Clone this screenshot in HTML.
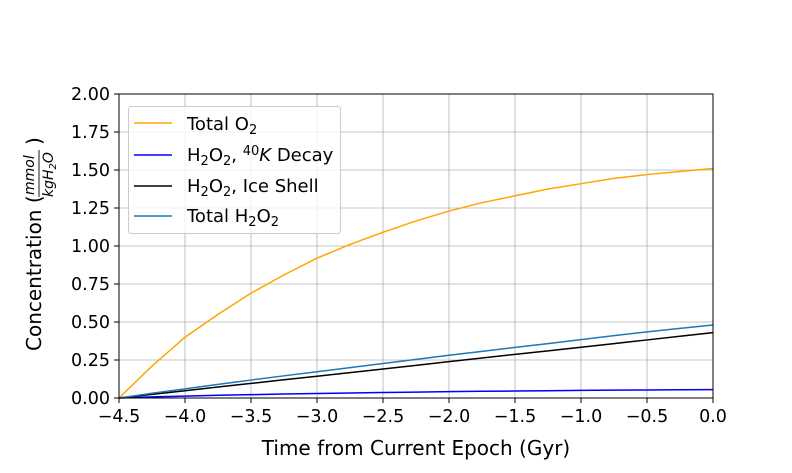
<!DOCTYPE html>
<html><head><meta charset="utf-8"><style>
body{margin:0;background:#fff;width:792px;height:468px;overflow:hidden}
svg{font-family:"DejaVu Sans","Liberation Sans",sans-serif}
</style></head><body>
<svg id="c" width="792" height="468"></svg>
<script>
const xs=[-4.5,-4.25,-4.0,-3.75,-3.5,-3.25,-3.0,-2.75,-2.5,-2.25,-2.0,-1.75,-1.5,-1.25,-1.0,-0.75,-0.5,-0.25,0.0];
const o2=[0,0.21,0.40,0.55,0.69,0.81,0.92,1.01,1.09,1.165,1.23,1.285,1.33,1.375,1.41,1.445,1.47,1.49,1.51];
const kdecay=[0,0.007,0.012,0.018,0.022,0.026,0.030,0.033,0.036,0.039,0.042,0.044,0.046,0.048,0.050,0.052,0.053,0.054,0.055];
const ice=[0,0.024,0.048,0.072,0.096,0.12,0.143,0.167,0.191,0.215,0.239,0.263,0.287,0.31,0.334,0.358,0.382,0.406,0.43];
const total=[0,0.031,0.06,0.09,0.118,0.146,0.173,0.2,0.227,0.254,0.281,0.307,0.333,0.358,0.384,0.41,0.435,0.458,0.48];
const xticks=[-4.5,-4.0,-3.5,-3.0,-2.5,-2.0,-1.5,-1.0,-0.5,0.0];
const yticks=[0,0.25,0.5,0.75,1.0,1.25,1.5,1.75,2.0];
const L=119,R=713,T=94,B=398;
const X=v=>L+(v+4.5)/4.5*(R-L);
const Y=v=>B-v/2*(B-T);
const s=document.getElementById('c');const NS='http://www.w3.org/2000/svg';
function el(t,a,txt){const e=document.createElementNS(NS,t);for(const k in a)e.setAttribute(k,a[k]);if(txt!==undefined)e.textContent=txt;s.appendChild(e);return e;}
xticks.forEach(v=>{
const g=el('line',{x1:X(v),x2:X(v),y1:T,y2:B,stroke:'#b0b0b0','stroke-width':0.8});


el('line',{x1:X(v),x2:X(v),y1:B,y2:B+5,stroke:'#000'});
const t=el('text',{x:X(v),y:B+24,'text-anchor':'middle','font-size':17.5},v.toFixed(1).replace('-','−'));


});
yticks.forEach(v=>{
const g=el('line',{x1:L,x2:R,y1:Y(v),y2:Y(v),stroke:'#b0b0b0','stroke-width':0.8});


el('line',{x1:L-5,x2:L,y1:Y(v),y2:Y(v),stroke:'#000'});
const t=el('text',{x:L-9,y:Y(v)+6,'text-anchor':'end','font-size':17.5},v.toFixed(2));


});
const series=[[o2,'#ffa500','total-o2-line'],[kdecay,'#0000ff','k-decay-line'],[ice,'#000','ice-shell-line'],[total,'#1f77b4','total-h2o2-line']];
series.forEach(([d,c,n])=>{
const p=el('polyline',{points:d.map((v,i)=>X(xs[i])+','+Y(v)).join(' '),fill:'none',stroke:c,'stroke-width':1.5,'stroke-linejoin':'round'});


});
const fr=el('rect',{x:L,y:T,width:R-L,height:B-T,fill:'none',stroke:'#000','stroke-width':1});


</script>
<svg style="position:absolute;left:0;top:0" width="792" height="468">
<g>
<rect x="128.5" y="106.5" width="212" height="127" rx="3" fill="#fff" fill-opacity="0.8" stroke="#ccc"/>
<line x1="134" x2="172" y1="123" y2="123" stroke="#ffa500" stroke-width="1.5"/>
<text x="187" y="130" font-size="18">Total O<tspan font-size="13" dy="4">2</tspan></text>
<line x1="134" x2="172" y1="155" y2="155" stroke="#0000ff" stroke-width="1.5"/>
<text x="187" y="161" font-size="18">H<tspan font-size="13" dy="4">2</tspan><tspan dy="-4">O</tspan><tspan font-size="13" dy="4">2</tspan><tspan dy="-4">, </tspan><tspan font-size="13" dy="-6">40</tspan><tspan dy="6" font-style="italic">K</tspan> Decay</text>
<line x1="134" x2="172" y1="186" y2="186" stroke="#000" stroke-width="1.5"/>
<text x="187" y="192" font-size="18">H<tspan font-size="13" dy="4">2</tspan><tspan dy="-4">O</tspan><tspan font-size="13" dy="4">2</tspan><tspan dy="-4">, Ice Shell</tspan></text>
<line x1="134" x2="172" y1="216" y2="216" stroke="#1f77b4" stroke-width="1.5"/>
<text x="187" y="222" font-size="18">Total H<tspan font-size="13" dy="4">2</tspan><tspan dy="-4">O</tspan><tspan font-size="13" dy="4">2</tspan></text>
</g>
<text x="416" y="455" text-anchor="middle" font-size="20">Time from Current Epoch (Gyr)</text>
<g transform="translate(41,246) rotate(-90)">
<text x="-105" y="0" font-size="20">Concentration (</text>
<text x="51" y="-7" font-size="14" font-style="italic">mmol</text>
<line x1="49" x2="96" y1="-2" y2="-2" stroke="#000" stroke-width="0.9"/>
<text x="49" y="12" font-size="14" font-style="italic">kgH<tspan font-size="10" dy="3">2</tspan><tspan dy="-3">O</tspan></text>
<text x="101" y="0" font-size="20">)</text>
</g>
</svg>
</body></html>
